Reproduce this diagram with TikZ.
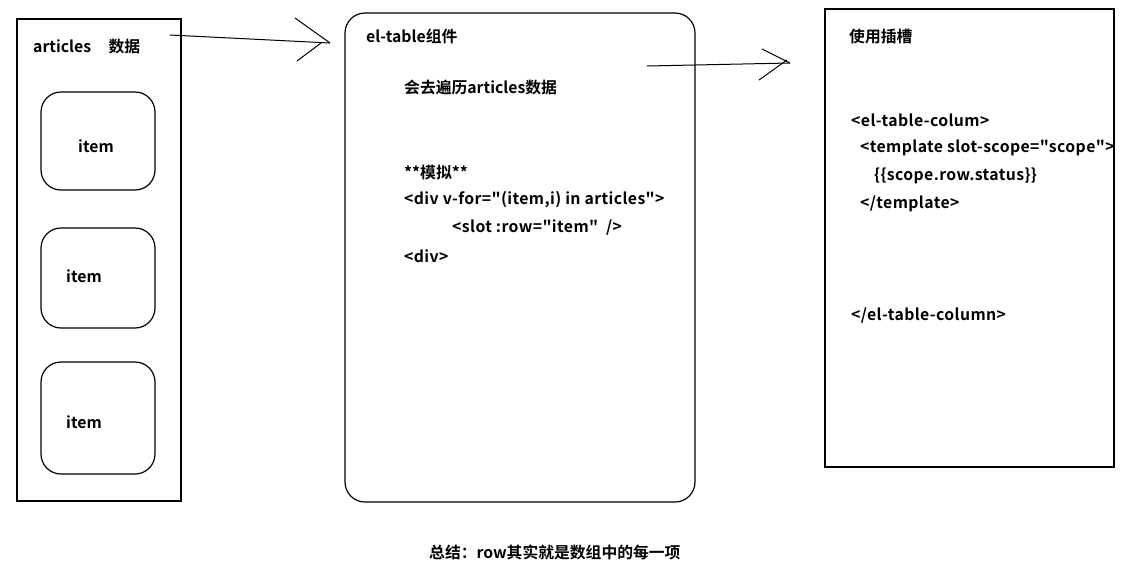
\documentclass[tikz,border=0pt]{standalone}
\usepackage{fontspec}
\setmainfont{Noto Sans CJK SC Bold}[Ligatures=TeXOff]
\begin{document}
\begin{tikzpicture}[x=1pt,y=-1pt,
  box/.style={draw=black,line width=1.2pt},
  txt/.style={anchor=west,inner sep=0pt,font=\fontsize{15.8}{18}\selectfont},
  code/.style={txt,font=\fontsize{15.8}{18}\selectfont\addfontfeature{LetterSpace=2.5}},
  conn/.style={draw=black,line width=1pt}]
\useasboundingbox (0,0) rectangle (1127,574);
\fill[white] (0,0) rectangle (1127,574);
% left box
\draw[box] (17,19) rectangle (181,501);
\node[txt] (arts) at (33,47) {articles\hspace{1.1em}数据};
\draw[box,rounded corners=20pt] (41,92) rectangle (155,190);
\draw[box,rounded corners=20pt] (41,228) rectangle (155,328);
\draw[box,rounded corners=20pt] (41,362) rectangle (155,474);
\node[txt,anchor=center] (it1) at (96,146) {item};
\node[txt,anchor=center] (it2) at (84,276) {item};
\node[txt,anchor=center] (it3) at (84,422) {item};
% middle box
\draw[box,rounded corners=20pt] (345,13) rectangle (695,502);
\node[txt] (mt) at (366,36) {el-table组件};
\node[txt] (m1) at (404,87) {会去遍历articles数据};
\node[txt] (m2) at (404,172) {**模拟**};
\node[code] (m3) at (404,200) {<div v-for="(item,i) in articles">};
\node[code] (m4) at (452,228) {<slot :row="item"\hspace{0.5em}/>};
\node[code] (m5) at (404,256) {<div>};
% right box
\draw[box] (825,9) rectangle (1114,467);
\node[txt] (rt) at (849,37) {使用插槽};
\node[code] (r1) at (851,120) {<el-table-colum>};
\node[code] (r2) at (860,148) {<template slot-scope="scope">};
\node[code] (r3) at (874,176) {\{\{scope.row.status\}\}};
\node[code] (r4) at (860,204) {</template>};
\node[code] (r5) at (851,316) {</el-table-column>};
% bottom
\node[txt] (sum) at (429,552) {总结：row其实就是数组中的每一项};
% arrow 1
\coordinate (a1s) at (170,35);
\coordinate (a1e) at (330,43);
\coordinate (a1h1) at (295,18);
\coordinate (a1h2) at (297,61);
\draw[conn] (a1s) -- (a1e);
\draw[conn] (a1h1) -- (a1e);
\draw[conn] (a1h2) -- (321,43);
% arrow 2
\coordinate (a2s) at (647,66);
\coordinate (a2e) at (790,63);
\coordinate (a2h1) at (762,49);
\coordinate (a2h2) at (759,80);
\draw[conn] (a2s) -- (a2e);
\draw[conn] (a2h1) -- (a2e);
\draw[conn] (a2h2) -- (787,60);
\end{tikzpicture}
\end{document}
